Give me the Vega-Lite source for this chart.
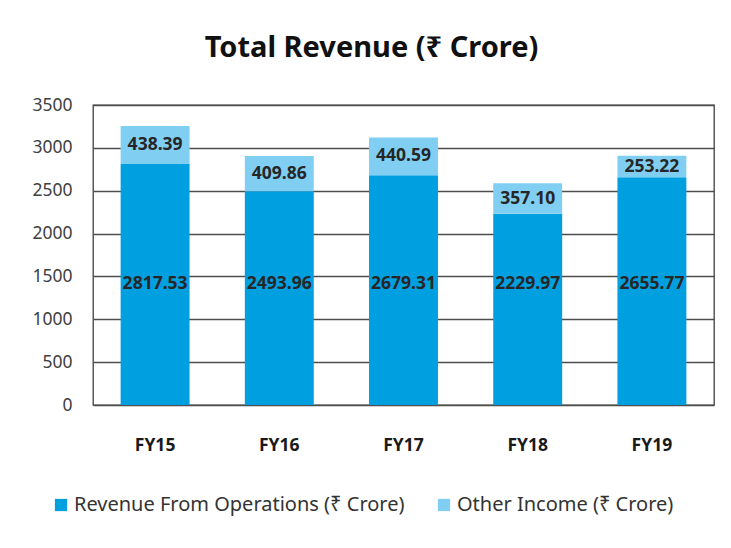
{
  "$schema": "https://vega.github.io/schema/vega-lite/v6.json",
  "autosize": {"type": "none"},
  "width": 621,
  "height": 300,
  "padding": {"left": 93, "top": 105, "right": 17, "bottom": 143},
  "background": "white",
  "config": {
    "font": "Noto Sans",
    "view": {"stroke": "#404040", "strokeWidth": 1.3}
  },
  "title": {
    "text": "Total Revenue (₹ Crore)",
    "fontSize": 29,
    "fontWeight": "bold",
    "color": "#111111",
    "anchor": "middle",
    "dx": -32,
    "offset": 33
  },
  "data": {
    "values": [
      {"year": "FY15", "series": "Revenue From Operations (₹ Crore)", "value": 2817.53, "order": 1},
      {"year": "FY15", "series": "Other Income (₹ Crore)", "value": 438.39, "order": 2},
      {"year": "FY16", "series": "Revenue From Operations (₹ Crore)", "value": 2493.96, "order": 1},
      {"year": "FY16", "series": "Other Income (₹ Crore)", "value": 409.86, "order": 2},
      {"year": "FY17", "series": "Revenue From Operations (₹ Crore)", "value": 2679.31, "order": 1},
      {"year": "FY17", "series": "Other Income (₹ Crore)", "value": 440.59, "order": 2},
      {"year": "FY18", "series": "Revenue From Operations (₹ Crore)", "value": 2229.97, "order": 1},
      {"year": "FY18", "series": "Other Income (₹ Crore)", "value": 357.10, "order": 2},
      {"year": "FY19", "series": "Revenue From Operations (₹ Crore)", "value": 2655.77, "order": 1},
      {"year": "FY19", "series": "Other Income (₹ Crore)", "value": 253.22, "order": 2}
    ]
  },
  "transform": [
    {"stack": "value", "groupby": ["year"], "sort": [{"field": "order", "order": "ascending"}], "as": ["v0", "v1"]}
  ],
  "encoding": {
    "x": {
      "field": "year",
      "type": "nominal",
      "sort": null,
      "scale": {"paddingInner": 0.445, "paddingOuter": 0.2225},
      "axis": {
        "title": null,
        "labelAngle": 0,
        "labelFontSize": 17.5,
        "labelFontWeight": "bold",
        "labelColor": "#1a1a1a",
        "labelPadding": 31,
        "ticks": false,
        "domain": false
      }
    }
  },
  "layer": [
    {
      "mark": {"type": "bar"},
      "encoding": {
        "y": {
          "field": "v0",
          "type": "quantitative",
          "scale": {"domain": [0, 3500], "nice": false},
          "axis": {
            "title": null,
            "values": [0, 500, 1000, 1500, 2000, 2500, 3000, 3500],
            "format": "d",
            "labelFontSize": 17.5,
            "labelColor": "#404040",
            "labelPadding": 21,
            "ticks": false,
            "domain": false,
            "gridColor": "#4d4d4d",
            "gridWidth": 1.3
          }
        },
        "y2": {"field": "v1"},
        "color": {
          "field": "series",
          "type": "nominal",
          "scale": {
            "domain": ["Revenue From Operations (₹ Crore)", "Other Income (₹ Crore)"],
            "range": ["#009FE0", "#80CFF3"]
          },
          "legend": {
            "title": null,
            "orient": "none",
            "direction": "horizontal",
            "legendX": -42,
            "legendY": 390,
            "symbolType": "square",
            "symbolSize": 150,
            "symbolStrokeWidth": 0,
            "labelFontSize": 20,
            "labelColor": "#333333",
            "labelOffset": 3,
            "columnPadding": 29,
            "labelLimit": 450
          }
        }
      }
    },
    {
      "transform": [
        {"filter": "datum.order == 2"},
        {"fold": ["v0", "v1"], "as": ["edge", "pos"]},
        {"aggregate": [{"op": "mean", "field": "pos", "as": "mid"}], "groupby": ["year", "series", "value"]}
      ],
      "mark": {"type": "text", "fontSize": 17.5, "fontWeight": "bold", "color": "#262626", "baseline": "middle", "align": "center"},
      "encoding": {
        "y": {"field": "mid", "type": "quantitative"},
        "text": {"field": "value", "type": "quantitative", "format": ".2f"}
      }
    },
    {
      "transform": [
        {"filter": "datum.order == 1"}
      ],
      "mark": {"type": "text", "fontSize": 17.5, "fontWeight": "bold", "color": "#262626", "baseline": "middle", "align": "center"},
      "encoding": {
        "y": {"datum": 1410, "type": "quantitative"},
        "text": {"field": "value", "type": "quantitative", "format": ".2f"}
      }
    }
  ]
}
